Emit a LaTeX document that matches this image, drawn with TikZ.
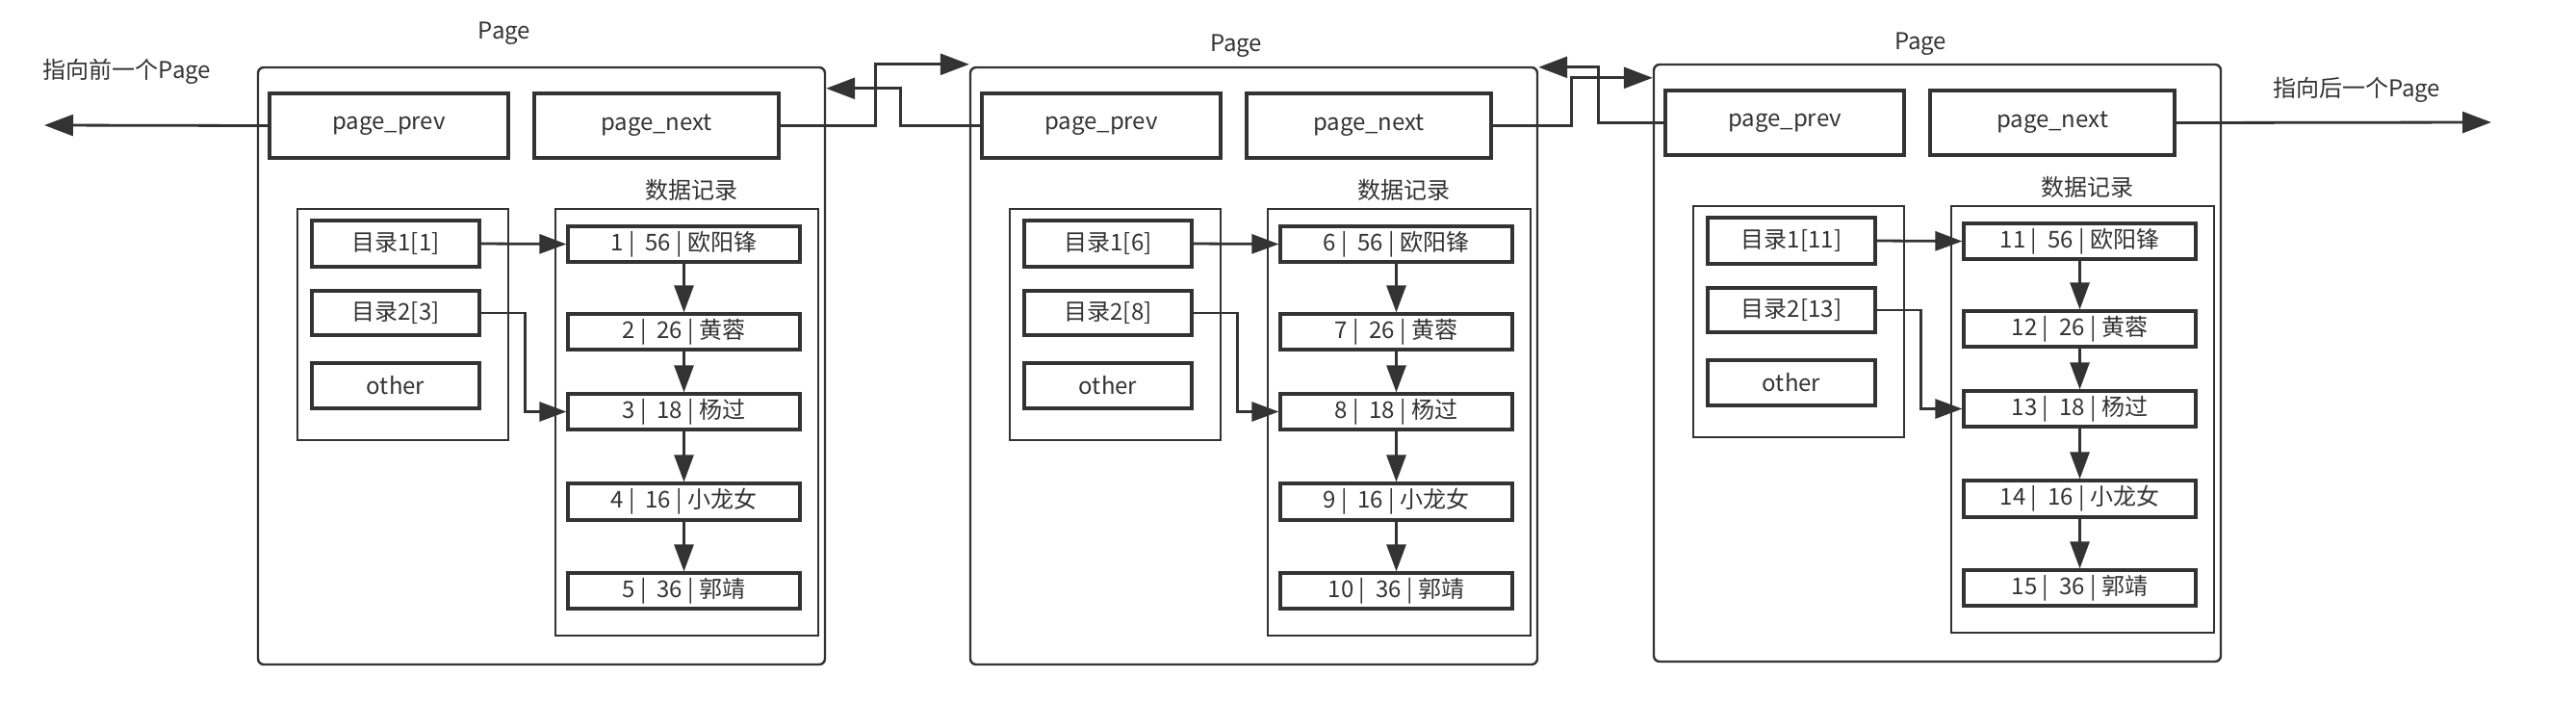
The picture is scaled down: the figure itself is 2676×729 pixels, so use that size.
\documentclass[tikz,border=0pt]{standalone}
\usepackage{fontspec}
\setmainfont{Noto Sans CJK SC}
\usetikzlibrary{arrows.meta,fit,calc}
\definecolor{ink}{HTML}{333333}
\tikzset{
  lbl/.style={text=ink, inner sep=0pt, font=\fontsize{12pt}{14pt}\selectfont},
  base/.style={draw=ink, inner sep=0pt},
  outerbox/.style={base, line width=1.2pt, rounded corners=3pt},
  container/.style={base, line width=1.3pt},
  cell/.style={base, line width=1.6pt},
  txt/.style={label={[lbl]center:#1}},
  arr/.style={draw=ink, line width=1.4pt, -{Triangle[length=14pt,width=10pt]}},
  link/.style={draw=ink, line width=1.4pt, -{Triangle[length=15pt,width=11pt]}},
}
\newcommand{\mkpage}[6]{%
\begin{scope}[shift={(#2,#3)}]
  \node[outerbox, fit={(0,0) (589,620)}] (#1outer) {};
  \node[cell, fit={(12,27) (260,94)}, txt={page\_prev}] (#1prev) {};
  \node[cell, fit={(287,27) (541,94)}, txt={page\_next}] (#1next) {};
  \node[lbl] (#1dtitle) at (450,127) {数据记录};
  \node[container, fit={(41,147) (260,387)}] (#1dir) {};
  \node[container, fit={(309,147) (582,590)}] (#1rec) {};
  \node[cell, fit={(56,159) (230,207)}, txt={目录1[#5]}] (#1d1) {};
  \node[cell, fit={(56,232) (230,278)}, txt={目录2[#6]}] (#1d2) {};
  \node[cell, fit={(56,307) (230,354)}, txt={other}] (#1d3) {};
  \node[cell, fit={(322,165) (563,202)}, txt={\the\numexpr#4\relax\ | \ 56 | 欧阳锋}] (#1r1) {};
  \node[cell, fit={(322,256) (563,293)}, txt={\the\numexpr#4+1\relax\ | \ 26 | 黄蓉}] (#1r2) {};
  \node[cell, fit={(322,339) (563,376)}, txt={\the\numexpr#4+2\relax\ | \ 18 | 杨过}] (#1r3) {};
  \node[cell, fit={(322,432) (563,470)}, txt={\the\numexpr#4+3\relax\ | \ 16 | 小龙女}] (#1r4) {};
  \node[cell, fit={(322,525) (563,562)}, txt={\the\numexpr#4+4\relax\ | \ 36 | 郭靖}] (#1r5) {};
  \draw[arr] (#1d1.east) -- (#1r1.west);
  \draw[arr] (#1d2.east) -- ++(46,0) |- (#1r3.west);
  \draw[arr] (#1r1) -- (#1r2);
  \draw[arr] (#1r2) -- (#1r3);
  \draw[arr] (#1r3) -- (#1r4);
  \draw[arr] (#1r4) -- (#1r5);
\end{scope}}
\begin{document}
\begin{tikzpicture}[x=0.5pt, y=-0.5pt]
  \useasboundingbox (0,0) rectangle (2676,729);
  \mkpage{pa}{268}{70}{1}{1}{3}
  \mkpage{pb}{1008}{70}{6}{6}{8}
  \mkpage{pc}{1718}{67}{11}{11}{13}
  \node[lbl] (ta) at (524,35) {Page};
  \node[lbl] (tb) at (1284,48) {Page};
  \node[lbl] (tc) at (1995,46) {Page};
  \node[lbl] (prevtxt) at (132,74) {指向前一个Page};
  \node[lbl] (nexttxt) at (2448,93) {指向后一个Page};
  \coordinate (lefttip) at (46,130);
  \coordinate (righttip) at (2588,127);
  \draw[link] (paprev.west) -- (lefttip);
  \draw[link] (pcnext.east) -- (righttip);
  \draw[link] (panext.east) -- ++(99,0) |- ($(pbouter.north west)+(0,-2)$);
  \draw[link] (pbprev.west) -- ++(-83,0) |- ($(paouter.north east)+(0,23)$);
  \draw[link] (pcprev.west) -- ++(-68,0) |- ($(pbouter.north east)+(0,1)$);
  \draw[link] (pbnext.east) -- ++(82,0) |- ($(pcouter.north west)+(0,15)$);
\end{tikzpicture}
\end{document}
